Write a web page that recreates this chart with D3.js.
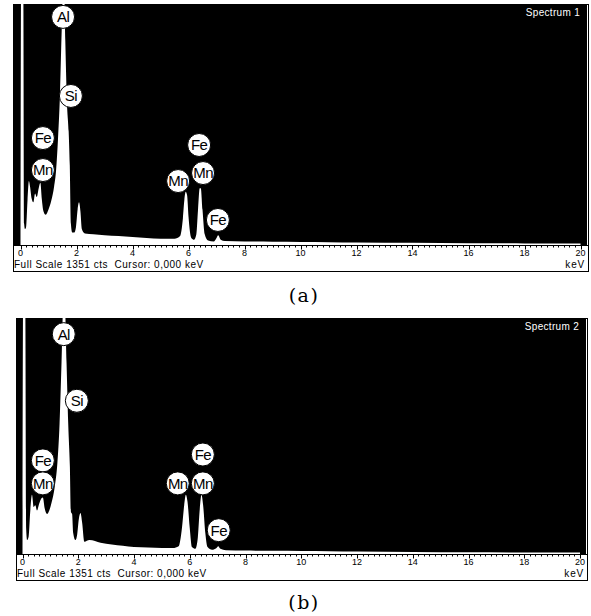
<!DOCTYPE html>
<html>
<head>
<meta charset="utf-8">
<script src="https://cdn.jsdelivr.net/npm/d3@7/dist/d3.min.js"></script>
<style>
  html, body { margin: 0; padding: 0; background: #fff; }
  svg { display: block; }
  text.pre { white-space: pre; }
</style>
</head>
<body>
<svg id="chart" width="591" height="616"></svg>
<script>
// ---------------- DATA ----------------
const fullScale = 1351;
const xTicks = [0, 2, 4, 6, 8, 10, 12, 14, 16, 18, 20];
const spectrumNames = ["Spectrum 1", "Spectrum 2"];
const captions = ["(a)", "(b)"];
const footerText = "Full Scale 1351 cts  Cursor: 0,000 keV";
const unitText = "keV";

// Spectrum 1 (a): energy (keV) and counts
const energyA = [0.00, 0.02, 0.05, 0.10, 0.13, 0.16, 0.20, 0.25, 0.30, 0.34, 0.40, 0.46, 0.52, 0.58, 0.65, 0.71, 0.76, 0.82, 0.90, 1.00,
  1.10, 1.20, 1.27, 1.34, 1.41, 1.47, 1.52, 1.56, 1.60, 1.66, 1.72, 1.76, 1.80, 1.85, 1.92, 1.98, 2.04, 2.09, 2.14, 2.19,
  2.30, 2.60, 3.00, 3.50, 4.00, 4.50, 5.00, 5.50, 5.70, 5.80, 5.85, 5.90, 5.95, 6.00, 6.10, 6.20, 6.28, 6.34, 6.40, 6.44,
  6.50, 6.58, 6.70, 6.90, 7.00, 7.06, 7.15, 7.30, 8.00, 9.00, 10.0, 11.0, 12.0, 14.0, 16.0, 18.0, 20.0];
const countsA = [0, 2000, 2000, 2000, 120, 90, 100, 250, 360, 330, 260, 240, 290, 270, 320, 350, 260, 190, 170, 200,
  250, 330, 420, 600, 850, 1200, 1500, 1500, 1150, 800, 640, 450, 120, 70, 70, 100, 200, 240, 190, 90,
  65, 60, 55, 50, 45, 40, 35, 35, 50, 150, 250, 300, 280, 160, 40, 30, 60, 200, 320, 320,
  200, 60, 25, 20, 40, 55, 30, 22, 20, 18, 17, 16, 14, 12, 10, 9, 8];

// Spectrum 2 (b)
const energyB = [0.00, 0.02, 0.10, 0.13, 0.17, 0.22, 0.28, 0.34, 0.40, 0.46, 0.52, 0.60, 0.68, 0.73, 0.80, 0.88, 0.96, 1.05, 1.15, 1.25,
  1.33, 1.40, 1.46, 1.52, 1.58, 1.64, 1.70, 1.74, 1.78, 1.82, 1.90, 1.96, 2.02, 2.08, 2.14, 2.22, 2.40, 2.80, 3.20, 3.60,
  4.00, 4.50, 5.00, 5.40, 5.60, 5.72, 5.80, 5.86, 5.92, 6.00, 6.08, 6.20, 6.28, 6.36, 6.42, 6.48, 6.56, 6.64, 6.80, 6.96,
  7.02, 7.10, 7.30, 8.00, 9.00, 10.0, 11.0, 12.0, 14.0, 16.0, 18.0, 20.0];
const countsB = [0, 2000, 2000, 150, 80, 100, 250, 340, 270, 280, 250, 290, 320, 325, 260, 230, 250, 300, 380, 520,
  750, 1100, 1500, 1500, 1100, 750, 500, 240, 230, 120, 80, 110, 200, 235, 180, 70, 80, 65, 55, 48,
  40, 38, 35, 35, 45, 150, 280, 340, 300, 150, 40, 30, 80, 260, 340, 280, 120, 40, 25, 35,
  45, 30, 22, 20, 18, 17, 16, 14, 12, 10, 9, 8];

// Peak labels
const labelElements = ["Al", "Si", "Fe", "Mn", "Fe", "Mn", "Mn", "Fe"];
const labelEnergiesA = [1.52, 1.80, 0.80, 0.80, 6.38, 5.63, 6.52, 7.05];
const labelCountsA  = [1284, 839, 602, 422, 563, 360, 405, 141];
const labelEnergiesB = [1.48, 1.95, 0.73, 0.73, 6.47, 5.57, 6.47, 7.04];
const labelCountsB  = [1264, 881, 538, 406, 572, 406, 406, 137];

// ---------------- LAYOUT ----------------
const panels = [
  { left: 13, top: 4, right: 588, axisY: 245, bottom: 271, x0: 20.5, x1: 580.5,
    energy: energyA, counts: countsA, le: labelEnergiesA, lc: labelCountsA,
    name: spectrumNames[0], caption: captions[0], captionY: 302 },
  { left: 16, top: 318, right: 587, axisY: 554, bottom: 580, x0: 22.5, x1: 580,
    energy: energyB, counts: countsB, le: labelEnergiesB, lc: labelCountsB,
    name: spectrumNames[1], caption: captions[1], captionY: 609 }
];

const svg = d3.select("#chart");
const sans = "'Liberation Sans', Arial, sans-serif";

panels.forEach((p, i) => {
  const g = svg.append("g");
  const x = d3.scaleLinear().domain([0, 20]).range([p.x0, p.x1]);
  const y = d3.scaleLinear().domain([0, fullScale]).range([p.axisY, p.top + 1]);

  // Outer frame + strip
  g.append("rect").attr("x", p.left + 0.5).attr("y", p.top + 0.5)
    .attr("width", p.right - p.left).attr("height", p.bottom - p.top)
    .attr("fill", "#fff").attr("stroke", "#000").attr("stroke-width", 1);
  // Black plot area
  g.append("rect").attr("x", p.left).attr("y", p.top)
    .attr("width", p.right - p.left - 1).attr("height", p.axisY - p.top)
    .attr("fill", "#000");

  const clipId = "clip" + i;
  g.append("clipPath").attr("id", clipId).append("rect")
    .attr("x", p.left).attr("y", p.top)
    .attr("width", p.right - p.left - 1).attr("height", p.axisY - p.top);

  const data = p.energy.map((e, k) => [e, p.counts[k]]);
  const area = d3.area()
    .x(d => x(d[0]))
    .y0(y(0))
    .y1(d => y(Math.min(d[1], fullScale * 1.05)))
    .curve(d3.curveMonotoneX);
  g.append("path").datum(data).attr("d", area)
    .attr("fill", "#fff").attr("clip-path", `url(#${clipId})`);

  // Spectrum name
  g.append("text").attr("x", p.right - 8).attr("y", p.top + 12)
    .attr("text-anchor", "end").attr("fill", "#fff")
    .attr("font-family", sans).attr("font-size", 10).attr("letter-spacing", 0.3).text(p.name);

  // Axis
  const axisG = g.append("g").attr("transform", `translate(0,${p.axisY + 0.5})`);
  axisG.append("line").attr("x1", p.left).attr("x2", p.right)
    .attr("stroke", "#000").attr("stroke-width", 1);
  const minor = d3.range(0, 20.001, 0.2);
  axisG.selectAll("line.minor").data(minor).enter().append("line")
    .attr("class", "minor")
    .attr("x1", d => Math.round(x(d)) + 0.5).attr("x2", d => Math.round(x(d)) + 0.5)
    .attr("y1", 0).attr("y2", 2).attr("stroke", "#000").attr("stroke-width", 1);
  axisG.selectAll("line.major").data(xTicks).enter().append("line")
    .attr("class", "major")
    .attr("x1", d => Math.round(x(d)) + 0.5).attr("x2", d => Math.round(x(d)) + 0.5)
    .attr("y1", 0).attr("y2", 4).attr("stroke", "#000").attr("stroke-width", 1);
  axisG.selectAll("text").data(xTicks).enter().append("text")
    .attr("x", d => x(d)).attr("y", 10.5)
    .attr("text-anchor", d => d === 20 ? "end" : "middle")
    .attr("dx", d => d === 20 ? 5 : 0)
    .attr("font-family", sans).attr("font-size", 9).attr("fill", "#000")
    .text(d => d);

  // Footer text
  g.append("text").attr("class", "pre").attr("x", p.left + 1).attr("y", p.bottom - 3)
    .attr("font-family", sans).attr("font-size", 10).attr("letter-spacing", 0.5).attr("fill", "#000")
    .text(footerText);
  g.append("text").attr("x", p.right - 3).attr("y", p.bottom - 3)
    .attr("text-anchor", "end")
    .attr("font-family", sans).attr("font-size", 10).attr("fill", "#000")
    .attr("letter-spacing", 0.8)
    .text(unitText);

  // Peak labels
  const lab = g.selectAll("g.lab").data(labelElements.map((el, k) => ({ el, e: p.le[k], c: p.lc[k] })))
    .enter().append("g").attr("class", "lab")
    .attr("transform", d => `translate(${x(d.e)},${y(d.c)})`);
  lab.append("circle").attr("r", 11.5).attr("fill", "#fff")
    .attr("stroke", "#000").attr("stroke-width", 1);
  lab.append("text").attr("text-anchor", "middle").attr("dy", "0.36em")
    .attr("font-family", sans).attr("font-size", 15).attr("fill", "#000")
    .attr("letter-spacing", -0.6)
    .text(d => d.el);

  // Caption
  svg.append("text").attr("x", 304).attr("y", p.captionY)
    .attr("text-anchor", "middle")
    .attr("font-family", "'DejaVu Serif', 'Liberation Serif', serif")
    .attr("font-size", 19).attr("letter-spacing", 1.5).attr("fill", "#000")
    .text(p.caption);
});
</script>
</body>
</html>
